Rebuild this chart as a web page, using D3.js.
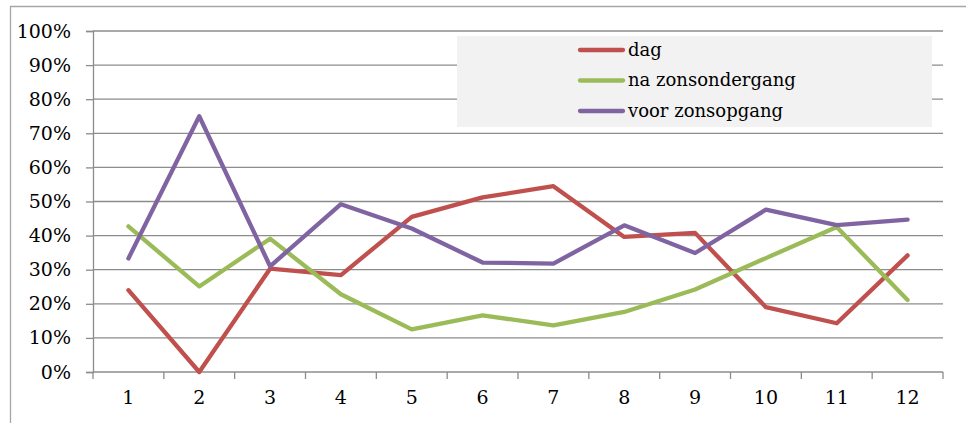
<!DOCTYPE html>
<html>
<head>
<meta charset="utf-8">
<script src="https://cdn.jsdelivr.net/npm/d3@7"></script>
<style>
html,body{margin:0;padding:0;background:#fff;}
svg{display:block;}
text{font-family:"DejaVu Serif","Liberation Serif",serif;fill:#000;}
</style>
</head>
<body>
<svg id="chart" width="966" height="423"></svg>
<script>
const categories = [1,2,3,4,5,6,7,8,9,10,11,12];
const dag = [24, 0, 30.3, 28.4, 45.5, 51.2, 54.5, 39.6, 40.8, 19, 14.3, 34.2];
const naZonsondergang = [42.7, 25.1, 39.1, 22.8, 12.5, 16.6, 13.7, 17.6, 24.2, 33.4, 42.5, 21.1];
const voorZonsopgang = [33.3, 75, 31, 49.2, 42.1, 32.1, 31.8, 43, 34.9, 47.6, 43.1, 44.7];
const yTicks = [0,10,20,30,40,50,60,70,80,90,100];
const seriesNames = ["dag", "na zonsondergang", "voor zonsopgang"];
const seriesColors = ["#c0504d", "#9bbb59", "#8064a2"];

const series = [dag, naZonsondergang, voorZonsopgang].map((values, i) => ({
  name: seriesNames[i], color: seriesColors[i], values
}));

const svg = d3.select("#chart");
const plotLeft = 93, plotRight = 943, plotTop = 31, plotBottom = 372;

// outer frame
svg.append("path")
  .attr("d", `M10.5,423 V6.5 H966`)
  .attr("fill", "none").attr("stroke", "#a6a6a6").attr("stroke-width", 1.3);

const x = d3.scaleBand().domain(categories).range([plotLeft, plotRight]).paddingInner(0).paddingOuter(0);
const y = d3.scaleLinear().domain([0, 100]).range([plotBottom, plotTop]);

// gridlines
svg.append("g").selectAll("line").data(yTicks.filter(d => d > 0)).join("line")
  .attr("x1", plotLeft).attr("x2", plotRight)
  .attr("y1", d => y(d)).attr("y2", d => y(d))
  .attr("stroke", "#8c8c8c").attr("stroke-width", 1.3);

// y axis
const yAxis = d3.axisLeft(y).tickValues(yTicks).tickFormat(d => d + "%").tickSize(7).tickPadding(15);
const gy = svg.append("g").attr("transform", `translate(${plotLeft},0)`).call(yAxis);
gy.select(".domain").attr("stroke", "#8c8c8c").attr("stroke-width", 1.3);
gy.selectAll(".tick line").attr("stroke", "#8c8c8c").attr("stroke-width", 1.3);
gy.selectAll("text").style("font-size", "19px").style("font-family", '"DejaVu Serif",serif').attr("fill", "#000");

// x axis
const xAxis = d3.axisBottom(x).tickSize(0).tickPadding(19);
const gx = svg.append("g").attr("transform", `translate(0,${plotBottom})`).call(xAxis);
gx.select(".domain").remove();
gx.append("line").attr("x1", plotLeft).attr("x2", plotRight).attr("y1", 0).attr("y2", 0)
  .attr("stroke", "#8c8c8c").attr("stroke-width", 1.3);
gx.selectAll(".tickmark").data(d3.range(categories.length + 1)).join("line")
  .attr("class", "tickmark")
  .attr("x1", i => plotLeft + i * x.bandwidth()).attr("x2", i => plotLeft + i * x.bandwidth())
  .attr("y1", 0).attr("y2", 7)
  .attr("stroke", "#8c8c8c").attr("stroke-width", 1.3);
gx.selectAll("text").style("font-size", "19px").style("font-family", '"DejaVu Serif",serif').attr("fill", "#000");

// lines
const line = d3.line()
  .x((d, i) => x(categories[i]) + x.bandwidth() / 2)
  .y(d => y(d));

svg.append("g").selectAll("path").data(series).join("path")
  .attr("d", d => line(d.values))
  .attr("fill", "none")
  .attr("stroke", d => d.color)
  .attr("stroke-width", 4.3)
  .attr("stroke-linejoin", "round")
  .attr("stroke-linecap", "round");

// legend
const lg = svg.append("g");
lg.append("rect").attr("x", 457).attr("y", 36).attr("width", 475).attr("height", 91).attr("fill", "#f2f2f2");
const items = lg.selectAll("g").data(series).join("g")
  .attr("transform", (d, i) => `translate(0,${50 + i * 30.5})`);
items.append("line").attr("x1", 580).attr("x2", 623).attr("y1", 0).attr("y2", 0)
  .attr("stroke", d => d.color).attr("stroke-width", 4.3).attr("stroke-linecap", "round");
items.append("text").attr("x", 628).attr("y", 0).attr("dy", "0.32em")
  .style("font-size", "18px").text(d => d.name);
</script>
</body>
</html>
